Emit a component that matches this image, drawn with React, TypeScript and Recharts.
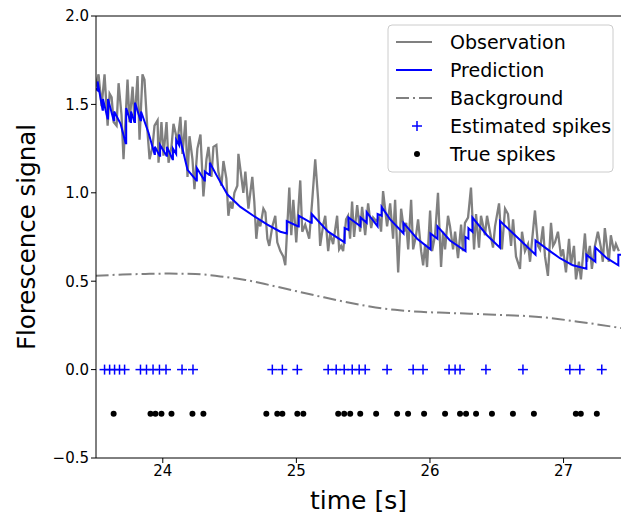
import React from 'react';
import { ComposedChart, Line, Scatter, XAxis, YAxis, ReferenceLine, Label } from 'recharts';

// observation trace [time, value]
const observation: [number, number][] = [
  [23.497, 1.6], [23.519, 1.67], [23.542, 1.49], [23.564, 1.67], [23.587, 1.38], [23.602, 1.56], [23.617, 1.54], [23.632, 1.4],
  [23.654, 1.38], [23.669, 1.62], [23.691, 1.44], [23.706, 1.19], [23.736, 1.64], [23.751, 1.4], [23.774, 1.6], [23.788, 1.4],
  [23.811, 1.66], [23.826, 1.3], [23.848, 1.67], [23.863, 1.64], [23.886, 1.34], [23.901, 1.19], [23.923, 1.26], [23.938, 1.38],
  [23.961, 1.41], [23.968, 1.17], [23.99, 1.4], [24.005, 1.21], [24.028, 1.4], [24.043, 1.17], [24.065, 1.26], [24.08, 1.39],
  [24.11, 1.29], [24.132, 1.43], [24.147, 1.22], [24.17, 1.41],
  [24.185, 1.09], [24.2, 1.32], [24.222, 1.19], [24.237, 1.02], [24.259, 1.25], [24.282, 1.33], [24.297, 1.09], [24.304, 0.98],
  [24.327, 1.19], [24.342, 1.26], [24.364, 1.09], [24.379, 1.26], [24.401, 1.27], [24.416, 1.12], [24.439, 1.04], [24.454, 1.18],
  [24.476, 1.08], [24.491, 0.87], [24.506, 0.95], [24.521, 0.91], [24.536, 1.0], [24.558, 1.04], [24.566, 1.22], [24.588, 1.09],
  [24.603, 1.0], [24.618, 1.12], [24.641, 0.91], [24.655, 1.0], [24.67, 1.09], [24.685, 0.95], [24.7, 0.74], [24.715, 0.85],
  [24.73, 0.81], [24.753, 0.91], [24.768, 0.89], [24.783, 0.74], [24.797, 0.7], [24.82, 0.81], [24.842, 0.87], [24.857, 0.72],
  [24.88, 0.67], [24.902, 0.64],
  [24.917, 0.59], [24.947, 1.03], [24.962, 0.76], [24.977, 0.96], [24.999, 0.72], [25.029, 1.07], [25.044, 0.78], [25.066, 0.82],
  [25.096, 0.74], [25.119, 0.96], [25.141, 1.19], [25.163, 0.96], [25.178, 0.7], [25.201, 0.82], [25.216, 0.87], [25.238, 0.67],
  [25.253, 0.77], [25.275, 0.71], [25.305, 0.87], [25.32, 0.68], [25.335, 0.7], [25.35, 0.67], [25.372, 0.85], [25.387, 0.87],
  [25.402, 0.74], [25.417, 0.95], [25.432, 0.75], [25.455, 0.93], [25.477, 0.78], [25.492, 0.92], [25.515, 0.76], [25.537, 0.94],
  [25.56, 0.8], [25.575, 0.86], [25.597, 0.84], [25.619, 0.86], [25.634, 0.78], [25.649, 1.01], [25.679, 0.81], [25.702, 0.94],
  [25.724, 0.74], [25.739, 0.96], [25.762, 0.55], [25.784, 0.91], [25.807, 0.78], [25.822, 0.83], [25.837, 0.68], [25.859, 0.96],
  [25.874, 0.68], [25.896, 0.76], [25.911, 0.85], [25.934, 0.67], [25.949, 0.59], [25.964, 0.71], [25.978, 0.58], [26.001, 0.9],
  [26.016, 0.67], [26.038, 0.76], [26.06, 1.0], [26.083, 0.58], [26.098, 0.78], [26.113, 0.68], [26.135, 0.87], [26.15, 0.81],
  [26.173, 0.68], [26.188, 0.78], [26.21, 0.63], [26.233, 0.82], [26.247, 0.67], [26.262, 0.83], [26.285, 0.86], [26.307, 1.03],
  [26.33, 0.68], [26.345, 0.88], [26.367, 0.69], [26.382, 0.87], [26.412, 0.76], [26.427, 0.87], [26.449, 0.78], [26.472, 0.69],
  [26.487, 0.81], [26.517, 0.94],
  [26.539, 0.68], [26.562, 0.91], [26.584, 0.88], [26.607, 0.7], [26.622, 0.85], [26.644, 0.64], [26.674, 0.57], [26.689, 0.78],
  [26.711, 0.67], [26.734, 0.71], [26.749, 0.61], [26.786, 0.9], [26.809, 0.7], [26.824, 0.68], [26.846, 0.81], [26.861, 0.64],
  [26.883, 0.53], [26.906, 0.83], [26.921, 0.7], [26.936, 0.72], [26.958, 0.78], [26.981, 0.64], [26.996, 0.68], [27.018, 0.55],
  [27.041, 0.74], [27.055, 0.59], [27.078, 0.7], [27.093, 0.51], [27.115, 0.61], [27.13, 0.51], [27.16, 0.77], [27.175, 0.61],
  [27.197, 0.7], [27.212, 0.57], [27.235, 0.7], [27.257, 0.78], [27.28, 0.69], [27.294, 0.61], [27.309, 0.8], [27.339, 0.61],
  [27.354, 0.76], [27.377, 0.67], [27.392, 0.71], [27.414, 0.67],
];

// model prediction, jumps are pairs at the same time
const prediction: [number, number][] = [
  [23.497, 1.59], [23.512, 1.58], [23.512, 1.63], [23.549, 1.47], [23.552, 1.47], [23.552, 1.53], [23.587, 1.42], [23.59, 1.42],
  [23.59, 1.53], [23.632, 1.41], [23.636, 1.41], [23.636, 1.46], [23.684, 1.39], [23.722, 1.28], [23.726, 1.28], [23.726, 1.48],
  [23.759, 1.4], [23.762, 1.4], [23.762, 1.46], [23.788, 1.4], [23.792, 1.4], [23.792, 1.51], [23.833, 1.41], [23.837, 1.41],
  [23.837, 1.46], [23.893, 1.34], [23.938, 1.22], [23.941, 1.22], [23.941, 1.26], [23.976, 1.21], [23.98, 1.21], [23.98, 1.27],
  [24.028, 1.21], [24.031, 1.21], [24.031, 1.26], [24.073, 1.19], [24.076, 1.19], [24.076, 1.25], [24.1, 1.22], [24.1, 1.3],
  [24.122, 1.27], [24.122, 1.33], [24.185, 1.13], [24.252, 1.07], [24.255, 1.07], [24.255, 1.14], [24.312, 1.07], [24.315, 1.07],
  [24.315, 1.12], [24.349, 1.1], [24.352, 1.1], [24.352, 1.17], [24.409, 1.09], [24.484, 0.99], [24.581, 0.92], [24.678, 0.87],
  [24.783, 0.82], [24.88, 0.78], [24.928, 0.77], [24.928, 0.84], [25.014, 0.81], [25.018, 0.81], [25.018, 0.87], [25.111, 0.83],
  [25.115, 0.83], [25.115, 0.88], [25.238, 0.78], [25.361, 0.72], [25.361, 0.8], [25.39, 0.79], [25.39, 0.86], [25.48, 0.81],
  [25.48, 0.86], [25.526, 0.83], [25.526, 0.89], [25.608, 0.81], [25.608, 0.88], [25.638, 0.87], [25.638, 0.92], [25.702, 0.85],
  [25.802, 0.77], [25.802, 0.83], [25.904, 0.74], [26.004, 0.68], [26.004, 0.77], [26.056, 0.74], [26.056, 0.81], [26.15, 0.73],
  [26.266, 0.67], [26.266, 0.75], [26.288, 0.74], [26.288, 0.8], [26.318, 0.78], [26.318, 0.86], [26.427, 0.76], [26.524, 0.69],
  [26.524, 0.84], [26.651, 0.75], [26.79, 0.65], [26.79, 0.73], [26.898, 0.67], [26.973, 0.63], [27.07, 0.59], [27.171, 0.57],
  [27.171, 0.65], [27.238, 0.61], [27.238, 0.69], [27.324, 0.63], [27.41, 0.59], [27.41, 0.65], [27.43, 0.65],
];

const background: [number, number][] = [
  [23.497, 0.53], [23.7, 0.538], [23.871, 0.541], [24.05, 0.543], [24.244, 0.541], [24.43, 0.527], [24.618, 0.507],
  [24.8, 0.478], [24.992, 0.445], [25.18, 0.413], [25.365, 0.383], [25.55, 0.357], [25.739, 0.338], [25.93, 0.327],
  [26.113, 0.321], [26.3, 0.316], [26.486, 0.31], [26.67, 0.305], [26.86, 0.295], [27.107, 0.271], [27.25, 0.256], [27.43, 0.235],
];

const estimatedSpikes = [
  23.564, 23.602, 23.639, 23.676, 23.714, 23.833, 23.878, 23.927, 23.975, 24.024, 24.144, 24.226,
  24.82, 24.895, 25.007, 25.238, 25.298, 25.358, 25.418, 25.47, 25.515, 25.679, 25.874, 25.948,
  26.143, 26.188, 26.225, 26.419, 26.696, 27.047, 27.122, 27.286,
];

const trueSpikes = [
  23.632, 23.908, 23.945, 23.99, 24.065, 24.222, 24.304, 24.775, 24.857, 24.895, 25.007, 25.052,
  25.313, 25.358, 25.403, 25.478, 25.597, 25.754, 25.836, 25.956, 26.113, 26.225, 26.27, 26.345,
  26.464, 26.621, 26.778, 27.092, 27.129, 27.249,
];

const yTicks = [-0.5, 0, 0.5, 1.0, 1.5, 2.0];
const xTicks = [24, 25, 26, 27];

const toRows = (arr: [number, number][]) => arr.map(([t, v]) => ({ t, v }));
const obsData = toRows(observation);
const predData = toRows(prediction);
const bgData = toRows(background);
const estData = estimatedSpikes.map((t) => ({ t, v: 0 }));
const trueData = trueSpikes.map((t) => ({ t, v: -0.25 }));

const FONT = '"DejaVu Sans", sans-serif';
const GREY = '#808080';
const BLUE = '#0000ff';

const Plus = (props: any) => {
  const { cx, cy } = props;
  if (cx == null || cy == null) return null;
  return (
    <g stroke={BLUE} strokeWidth={1.5}>
      <line x1={cx - 5} x2={cx + 5} y1={cy} y2={cy} />
      <line x1={cx} x2={cx} y1={cy - 5} y2={cy + 5} />
    </g>
  );
};

const Dot = (props: any) => {
  const { cx, cy } = props;
  if (cx == null || cy == null) return null;
  return <circle cx={cx} cy={cy} r={3} fill="#000" />;
};

const fmtY = (v: number) => (v < 0 ? '\u2212' + Math.abs(v).toFixed(1) : v.toFixed(1));

function LegendBox() {
  const rows = [
    { label: 'Observation', kind: 'line', color: GREY, dash: undefined },
    { label: 'Prediction', kind: 'line', color: BLUE, dash: undefined },
    { label: 'Background', kind: 'line', color: GREY, dash: '13 4 2 4' },
    { label: 'Estimated spikes', kind: 'plus', color: BLUE },
    { label: 'True spikes', kind: 'dot', color: '#000' },
  ];
  return (
    <svg width={227} height={149} style={{ position: 'absolute', left: 387, top: 24 }}>
      <rect x={1} y={1} width={225} height={147} rx={4} fill="rgba(255,255,255,0.8)" stroke="#cccccc" />
      {rows.map((r, i) => {
        const y = 18 + i * 28;
        return (
          <g key={r.label}>
            {r.kind === 'line' && (
              <line x1={9} x2={45} y1={y} y2={y} stroke={r.color} strokeWidth={2} strokeDasharray={r.dash} />
            )}
            {r.kind === 'plus' && <Plus cx={30} cy={y} />}
            {r.kind === 'dot' && <Dot cx={30} cy={y} />}
            <text x={63} y={y} dominantBaseline="central" fontSize={19} fontFamily={FONT} fill="#000">
              {r.label}
            </text>
          </g>
        );
      })}
    </svg>
  );
}

export default function App() {
  return (
    <div style={{ position: 'absolute', left: 0, top: 0, width: 621, height: 518, background: '#fff' }}>
      <ComposedChart width={621} height={518} margin={{ top: 16, right: 0, bottom: 0, left: 0 }}>
        <XAxis
          type="number"
          dataKey="t"
          domain={[23.5, 27.43]}
          allowDataOverflow
          ticks={xTicks}
          height={60}
          stroke="#000"
          tickSize={5}
          tick={{ fill: '#000', fontSize: 15, fontFamily: FONT }}
        >
          <Label value="time [s]" position="insideBottom" offset={9} style={{ fontSize: 25, fontFamily: FONT, fill: '#000' }} />
        </XAxis>
        <YAxis
          type="number"
          dataKey="v"
          domain={[-0.5, 2.0]}
          allowDataOverflow
          ticks={yTicks}
          tickFormatter={fmtY}
          width={96}
          stroke="#000"
          tickSize={5}
          tick={{ fill: '#000', fontSize: 15, fontFamily: FONT }}
        >
          <Label
            value="Florescence signal"
            angle={-90}
            position="insideLeft"
            offset={26}
            style={{ fontSize: 24.5, fontFamily: FONT, fill: '#000', textAnchor: 'middle' }}
          />
        </YAxis>
        <ReferenceLine y={2.0} stroke="#000" strokeWidth={1} />
        <Line data={obsData} dataKey="v" type="linear" stroke={GREY} strokeWidth={2.3} dot={false} isAnimationActive={false} />
        <Line data={predData} dataKey="v" type="linear" stroke={BLUE} strokeWidth={2} dot={false} isAnimationActive={false} />
        <Line
          data={bgData}
          dataKey="v"
          type="monotone"
          stroke={GREY}
          strokeWidth={2}
          strokeDasharray="13 4 2 4"
          dot={false}
          isAnimationActive={false}
        />
        <Scatter data={estData} dataKey="v" shape={<Plus />} isAnimationActive={false} />
        <Scatter data={trueData} dataKey="v" shape={<Dot />} isAnimationActive={false} />
      </ComposedChart>
      <LegendBox />
    </div>
  );
}
